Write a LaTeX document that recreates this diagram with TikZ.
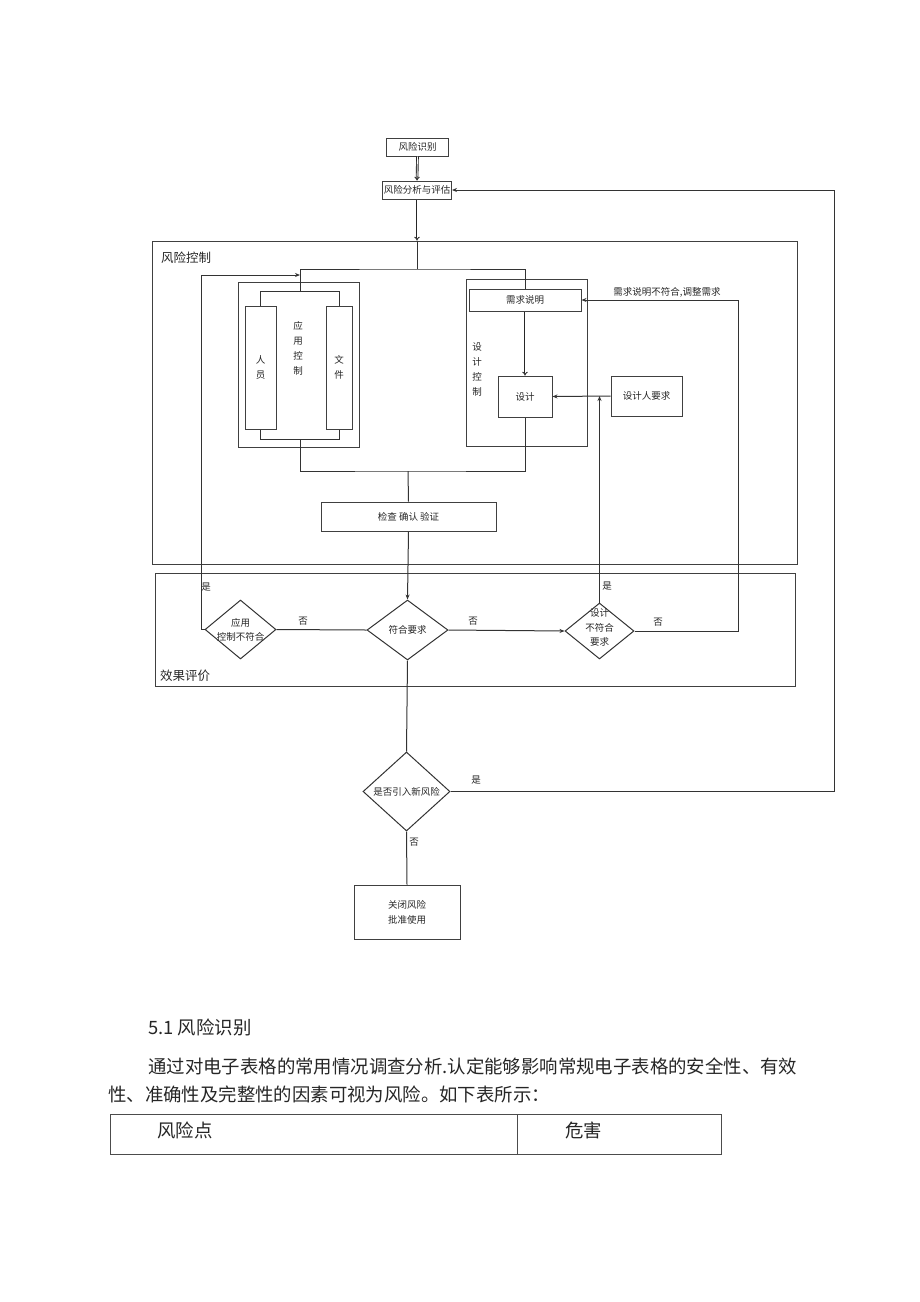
\documentclass[tikz,border=0pt]{standalone}
\usepackage{fontspec}
\setmainfont{Noto Sans CJK SC}
\usepackage{tikz}
\usetikzlibrary{shapes,arrows.meta}

\begin{document}
\begin{tikzpicture}[x=1pt,y=-1pt]
      \tikzstyle{every node}=[font=\fontsize{9.5}{12}\selectfont,inner sep=0pt,text=black!85]
      \tikzstyle{box}=[rectangle,draw=black!75,line width=1pt]
      \tikzstyle{dmd}=[diamond,draw=black!80,line width=1pt]
      \tikzstyle{link}=[draw=black!80,line width=1pt,>={Stealth[length=5pt,width=4pt]}]
      \tikzstyle{dbl}=[draw=black!85,double,double distance=0.8pt,line width=0.9pt,-{Implies}]
      \tikzstyle{vert}=[align=center,font=\fontsize{9.5}{15}\selectfont]
      \tikzstyle{big}=[anchor=west,font=\fontsize{12.5}{15}\selectfont]
      \tikzstyle{body}=[anchor=west,font=\fontsize{18.4}{22}\selectfont]
      \useasboundingbox (0,0) rectangle (920,1302);
      % top
      \node[box,minimum width=62pt,minimum height=18pt] (sb) at (417.5,147) {风险识别};
      \node[box,minimum width=69pt,minimum height=18pt] (fx) at (417,190) {风险分析与评估};
      \draw[dbl] (sb.south) -- (fx.north);
      % risk control
      \node[box,minimum width=645pt,minimum height=323pt] (kz) at (474.5,402.5) {};
      \node[big] (kzt) at (161,258) {风险控制};
      \node[box,minimum width=121pt,minimum height=165pt] (yy) at (298.5,364.5) {};
      \node[box,minimum width=31pt,minimum height=123pt,vert] (ry) at (260.5,367.5) {人\\员};
      \node[box,minimum width=26pt,minimum height=123pt,vert] (wj) at (339,367.5) {文\\件};
      \node[vert] (yyt) at (298,348) {应\\用\\控\\制};
      \node[box,minimum width=121pt,minimum height=167pt] (sk) at (526.5,362.5) {};
      \node[box,minimum width=112pt,minimum height=22pt] (xq) at (525,300) {需求说明};
      \node[box,minimum width=54pt,minimum height=41pt] (sj) at (525,396.5) {设计};
      \node[vert] (skt) at (477,369) {设\\计\\控\\制};
      \node[box,minimum width=71pt,minimum height=40pt] (sr) at (646.5,396) {设计人要求};
      \node[box,minimum width=175pt,minimum height=29pt] (jc) at (408.5,516.5) {检查 确认 验证};
      \coordinate (fen) at (417,269);
      \coordinate (ytop) at (300,292);
      \coordinate (ybot) at (300,439);
      \coordinate (yin) at (300,275);
      \coordinate (hb) at (408,471);
      \draw[dbl] (fx.south) -- (fx.south |- kz.north);
      \draw[link] (fx.south |- kz.north) -- (fen);
      \draw[link] (ytop) |- (fen) -| (xq.north);
      \draw[link] (ry.north) -- ++(0,-14) -| (wj.north);
      \draw[link] (ry.south) -- ++(0,10) -| (wj.south);
      \draw[link] (ybot) |- (hb) -| (sj.south);
      \draw[link] (hb) -- (jc.north);
      \draw[dbl] (xq.south) -- (sj.north);
      \draw[link,->] (sr.west) -- (sj.east);
      % evaluation
      \node[box,minimum width=640pt,minimum height=113pt] (xg) at (475,629.5) {};
      \node[big] (xgt) at (160,676) {效果评价};
      \node[dmd,minimum width=71pt,minimum height=59pt] (yk) at (240.5,629.5) {};
      \node[vert,font=\fontsize{9.5}{14}\selectfont] (ykt) at (yk) {应用\\控制不符合};
      \node[dmd,minimum width=81pt,minimum height=60pt] (fh) at (407.5,630) {};
      \node (fht) at (fh) {符合要求};
      \node[dmd,minimum width=69pt,minimum height=56pt] (bf) at (599.5,631) {};
      \node[vert,font=\fontsize{9.5}{14.5}\selectfont] (bft) at (599.5,627.5) {设计\\不符合\\要求};
      \coordinate (rq) at (738,300);
      \coordinate (rr) at (834,190);
      \draw[link,->] (jc.south) -- (fh.north);
      \draw[link] (fh.west) -- (yk.east);
      \draw[link,->] (fh.east) -- (bf.west);
      \draw[link,->] (yk.west) -- ++(-3,0) |- (yin);
      \draw[link,->] (bf.north) -- (bf.north |- sr.west);
      \draw[link,->] (bf.east) -| (xq.east -| rq) -- (xq.east);
      \node (n1) at (303,621) {否};
      \node (n2) at (473,621) {否};
      \node (n3) at (658,622) {否};
      \node (s1) at (206,587) {是};
      \node (s2) at (607,586) {是};
      \node (xqn) at (667,292) {需求说明不符合,调整需求};
      % new risk
      \node[dmd,minimum width=87pt,minimum height=79pt] (xf) at (406.5,791.5) {};
      \node (xft) at (xf) {是否引入新风险};
      \node[box,minimum width=106pt,minimum height=54pt,vert] (gb) at (407,912) {关闭风险\\批准使用};
      \draw[link] (fh.south) -- (xf.north);
      \draw[link,->] (xf.east) -| (fx.east -| rr) -- (fx.east);
      \draw[link] (xf.south) -- (gb.north);
      \node (s3) at (476,780) {是};
      \node (n4) at (414,842) {否};
      % text below
      \node[body] (h51) at (148,1027) {5.1 风险识别};
      \node[body] (p1) at (148,1066) {通过对电子表格的常用情况调查分析.认定能够影响常规电子表格的安全性、有效};
      \node[body] (p2) at (108,1094) {性、准确性及完整性的因素可视为风险。如下表所示：};
      \node[draw=black!70,line width=1pt,minimum width=407pt,minimum height=40pt] (c1) at (313.5,1134) {};
      \node[draw=black!70,line width=1pt,minimum width=204pt,minimum height=40pt] (c2) at (619,1134) {};
      \node[body] (c1t) at (157,1130) {风险点};
      \node[body] (c2t) at (565,1130) {危害};
\end{tikzpicture}
\end{document}
